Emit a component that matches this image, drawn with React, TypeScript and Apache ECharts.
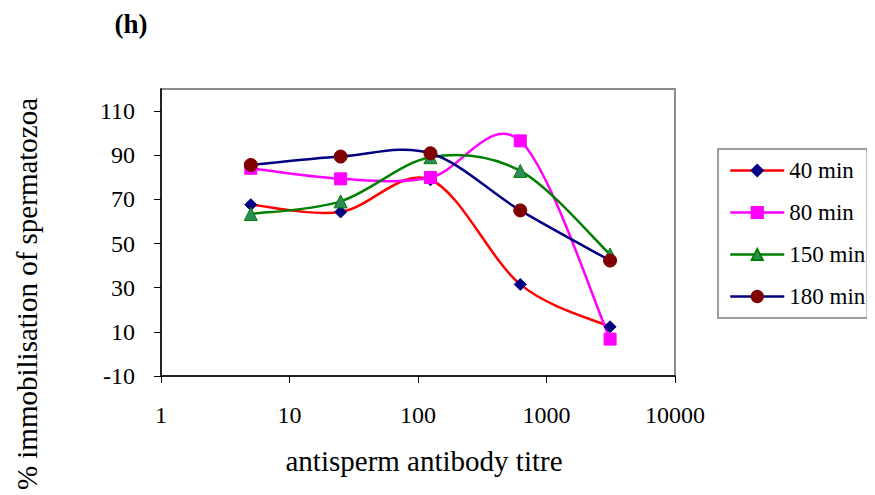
import React, { useEffect, useRef } from "react";
import * as echarts from "echarts";

const titres = [5, 25, 125, 625, 3125];
const min40 = [67.6, 64.3, 78.9, 31.5, 12.3];
const min80 = [84.1, 79.3, 79.9, 96.5, 6.7];
const min150 = [63.4, 69.1, 89.1, 82.9, 45];
const min180 = [85.6, 89.4, 90.9, 65, 42.3];
const seriesNames = ["40 min", "80 min", "150 min", "180 min"];
const yTicks = [-10, 10, 30, 50, 70, 90, 110];
const xTickLabels = ["1", "10", "100", "1000", "10000"];

const FONT = "'Liberation Serif', 'Times New Roman', serif";

type Spec = {
  name: string;
  vals: number[];
  line: string;
  symbol: string;
  size: number;
  fill: string;
  border: string;
};

const specs: Spec[] = [
  { name: seriesNames[0], vals: min40, line: "#ff0000", symbol: "diamond", size: 12, fill: "#000080", border: "#000080" },
  { name: seriesNames[1], vals: min80, line: "#ff00ff", symbol: "rect", size: 12, fill: "#ff00ff", border: "#ff00ff" },
  { name: seriesNames[2], vals: min150, line: "#008000", symbol: "triangle", size: 13, fill: "#2e8b57", border: "#008000" },
  { name: seriesNames[3], vals: min180, line: "#000080", symbol: "circle", size: 13, fill: "#800000", border: "#800000" },
];

export default function App() {
  const ref = useRef<HTMLDivElement>(null);
  useEffect(() => {
    if (!ref.current) return;
    const chart = echarts.init(ref.current, null, { renderer: "svg" });
    const pair = (vals: number[]) => titres.map((t, i) => [t, vals[i]]);

    const curveSeries = (s: Spec, idx: number) => ({
      name: "curve" + idx,
      type: "custom",
      data: pair(s.vals),
      encode: { x: 0, y: 1 },
      z: 2,
      silent: true,
      renderItem: (params: any, api: any) => {
        if (params.dataIndex !== 0) return null;
        const p = s.vals.map((v, i) => api.coord([titres[i], v]));
        const n = p.length;
        const children: any[] = [];
        for (let i = 0; i < n - 1; i++) {
          const p0 = p[Math.max(i - 1, 0)];
          const p1 = p[i];
          const p2 = p[i + 1];
          const p3 = p[Math.min(i + 2, n - 1)];
          children.push({
            type: "bezierCurve",
            shape: {
              x1: p1[0],
              y1: p1[1],
              cpx1: p1[0] + (p2[0] - p0[0]) / 6,
              cpy1: p1[1] + (p2[1] - p0[1]) / 6,
              cpx2: p2[0] - (p3[0] - p1[0]) / 6,
              cpy2: p2[1] - (p3[1] - p1[1]) / 6,
              x2: p2[0],
              y2: p2[1],
            },
            style: { stroke: s.line, lineWidth: 2.5, fill: null },
          });
        }
        return { type: "group", children };
      },
    });

    const markerSeries = (s: Spec) => ({
      name: s.name,
      type: "line",
      data: pair(s.vals),
      z: 3,
      symbol: s.symbol,
      symbolSize: s.size,
      lineStyle: { color: s.line, width: 2.5, opacity: 0 },
      itemStyle: { color: s.fill, borderColor: s.border, borderWidth: 1 },
      emphasis: { disabled: true },
    });

    chart.setOption({
      animation: false,
      textStyle: { fontFamily: FONT },
      graphic: [
        {
          type: "text",
          x: 131,
          y: 24,
          style: {
            text: "(h)",
            font: `bold 27px ${FONT}`,
            fill: "#000",
            textAlign: "center",
            textVerticalAlign: "middle",
          },
        },
        {
          type: "text",
          x: 424,
          y: 461,
          style: {
            text: "antisperm antibody titre",
            font: `29px ${FONT}`,
            fill: "#000",
            textAlign: "center",
            textVerticalAlign: "middle",
          },
        },
        {
          type: "text",
          x: 27,
          y: 294,
          rotation: Math.PI / 2,
          style: {
            text: "% immobilisation of spermatozoa",
            font: `29px ${FONT}`,
            fill: "#000",
            textAlign: "center",
            textVerticalAlign: "middle",
          },
        },
      ],
      grid: {
        left: 161,
        top: 89,
        width: 514,
        height: 287,
        show: true,
        borderColor: "#8c8c8c",
        borderWidth: 2,
        backgroundColor: "#fff",
      },
      legend: {
        orient: "vertical",
        left: 718,
        top: 149,
        padding: [10, 2, 10, 11],
        borderColor: "#808080",
        borderWidth: 1.5,
        itemWidth: 54,
        itemHeight: 14,
        itemGap: 19,
        data: specs.map((s) => ({
          name: s.name,
          lineStyle: { color: s.line, width: 2.5, opacity: 1 },
        })),
        textStyle: { fontFamily: FONT, fontSize: 23, color: "#000" },
      },
      xAxis: {
        type: "log",
        logBase: 10,
        min: 1,
        max: 10000,
        axisLine: { onZero: false, lineStyle: { color: "#000", width: 1.5 } },
        axisTick: { show: true, length: 7, lineStyle: { color: "#000" } },
        minorTick: { show: false },
        splitLine: { show: false },
        axisLabel: {
          fontFamily: FONT,
          fontSize: 24,
          color: "#000",
          margin: 27,
          formatter: (v: number) => xTickLabels[Math.round(Math.log10(v))] ?? "",
        },
      },
      yAxis: {
        type: "value",
        min: -10,
        max: 120,
        axisLine: { show: true, lineStyle: { color: "#000", width: 1.5 } },
        axisTick: { show: true, length: 7, lineStyle: { color: "#000" }, customValues: yTicks },
        splitLine: { show: false },
        axisLabel: {
          fontFamily: FONT,
          fontSize: 24,
          color: "#000",
          margin: 26,
          customValues: yTicks,
        },
      },
      series: [...specs.map(curveSeries), ...specs.map(markerSeries)],
    });
    return () => chart.dispose();
  }, []);
  return <div ref={ref} style={{ width: 875, height: 495, marginLeft: -8, marginTop: -8 }} />;
}
